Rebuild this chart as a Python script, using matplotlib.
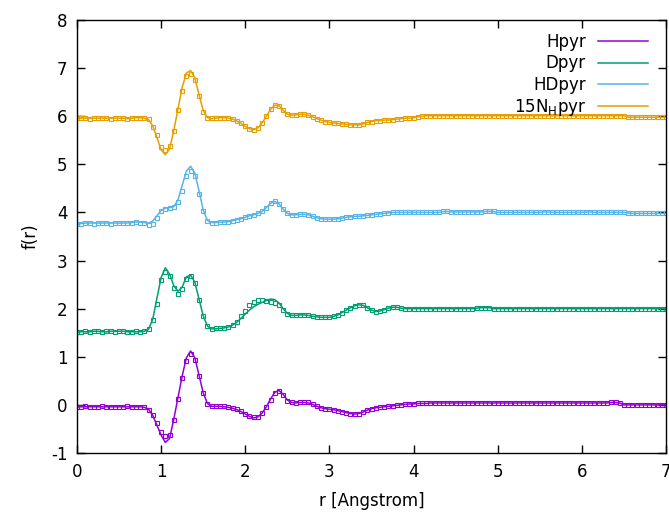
import numpy as np
import matplotlib
matplotlib.use("Agg")
import matplotlib.pyplot as plt

plt.rcParams['font.family'] = ['DejaVu Sans']
plt.rcParams['axes.unicode_minus'] = False

# r grid (Angstrom), one sample every 0.05
r = np.linspace(0.0, 7.0, 141)

# Hpyr (offset 0)
hpyr_fit = [
    -0.04, -0.04, -0.04, -0.04, -0.04, -0.04, -0.04, -0.04, -0.04, -0.04,
    -0.04, -0.04, -0.04, -0.04, -0.04, -0.04, -0.05, -0.09, -0.22, -0.42,
    -0.63, -0.78, -0.70, -0.30, 0.15, 0.60, 0.98, 1.12, 0.98, 0.62,
    0.25, 0.03, -0.03, -0.03, -0.03, -0.04, -0.05, -0.07, -0.10, -0.14,
    -0.19, -0.24, -0.27, -0.25, -0.17, -0.04, 0.12, 0.26, 0.30, 0.22,
    0.10, 0.05, 0.04, 0.05, 0.05, 0.04, 0.01, -0.03, -0.06, -0.08,
    -0.09, -0.10, -0.12, -0.14, -0.16, -0.18, -0.19, -0.18, -0.15, -0.11,
    -0.08, -0.06, -0.05, -0.04, -0.03, -0.02, -0.01, 0.00, 0.01, 0.02,
    0.02, 0.03, 0.03, 0.03, 0.04, 0.04, 0.04, 0.04, 0.04, 0.04,
    0.04, 0.04, 0.04, 0.04, 0.04, 0.04, 0.04, 0.04, 0.04, 0.04,
    0.04, 0.04, 0.04, 0.04, 0.04, 0.04, 0.04, 0.04, 0.04, 0.04,
    0.04, 0.04, 0.04, 0.04, 0.04, 0.04, 0.04, 0.04, 0.04, 0.04,
    0.04, 0.04, 0.04, 0.04, 0.04, 0.04, 0.04, 0.05, 0.05, 0.04,
    0.00, 0.00, 0.00, 0.00, 0.00, 0.00, 0.00, 0.00, 0.00, 0.00,
    0.00]
hpyr_data = [
    -0.04, -0.04, -0.03, -0.04, -0.04, -0.04, -0.03, -0.04, -0.04, -0.04,
    -0.04, -0.04, -0.03, -0.04, -0.04, -0.04, -0.05, -0.10, -0.22, -0.38,
    -0.56, -0.65, -0.63, -0.32, 0.13, 0.56, 0.92, 1.05, 0.94, 0.60,
    0.24, 0.02, -0.03, -0.03, -0.02, -0.03, -0.05, -0.06, -0.09, -0.13,
    -0.18, -0.23, -0.26, -0.25, -0.17, -0.05, 0.11, 0.25, 0.29, 0.21,
    0.09, 0.05, 0.04, 0.05, 0.05, 0.05, 0.02, -0.02, -0.06, -0.08,
    -0.09, -0.10, -0.12, -0.14, -0.16, -0.18, -0.19, -0.18, -0.15, -0.11,
    -0.08, -0.06, -0.05, -0.04, -0.03, -0.02, -0.01, 0.00, 0.01, 0.02,
    0.02, 0.03, 0.03, 0.03, 0.04, 0.04, 0.04, 0.04, 0.04, 0.04,
    0.04, 0.04, 0.04, 0.04, 0.04, 0.04, 0.04, 0.04, 0.04, 0.04,
    0.04, 0.04, 0.04, 0.04, 0.04, 0.04, 0.04, 0.04, 0.04, 0.04,
    0.04, 0.04, 0.04, 0.04, 0.04, 0.04, 0.04, 0.04, 0.04, 0.04,
    0.04, 0.04, 0.04, 0.04, 0.04, 0.04, 0.04, 0.05, 0.05, 0.04,
    0.00, 0.00, 0.00, 0.00, 0.00, 0.00, 0.00, 0.00, 0.00, 0.00,
    0.00]

# Dpyr (offset 2)
dpyr_fit = [
    1.51, 1.52, 1.52, 1.52, 1.53, 1.53, 1.52, 1.52, 1.53, 1.53,
    1.53, 1.53, 1.52, 1.52, 1.52, 1.52, 1.53, 1.57, 1.78, 2.22,
    2.65, 2.85, 2.72, 2.48, 2.36, 2.45, 2.66, 2.70, 2.55, 2.20,
    1.85, 1.64, 1.58, 1.58, 1.59, 1.60, 1.62, 1.66, 1.72, 1.80,
    1.89, 1.97, 2.04, 2.09, 2.13, 2.17, 2.20, 2.19, 2.12, 2.00,
    1.90, 1.86, 1.86, 1.87, 1.87, 1.86, 1.84, 1.83, 1.82, 1.82,
    1.82, 1.84, 1.87, 1.92, 1.97, 2.02, 2.06, 2.08, 2.07, 2.02,
    1.97, 1.94, 1.95, 1.98, 2.01, 2.03, 2.03, 2.01, 2.00, 2.00,
    2.00, 2.00, 2.00, 2.00, 2.00, 2.00, 2.00, 2.00, 2.00, 2.00,
    2.00, 2.00, 2.00, 2.00, 2.00, 2.01, 2.02, 2.02, 2.02, 2.00,
    2.00, 2.00, 2.00, 2.00, 2.00, 2.00, 2.00, 2.00, 2.00, 2.00,
    2.00, 2.00, 2.00, 2.00, 2.00, 2.00, 2.00, 2.00, 2.00, 2.00,
    2.00, 2.00, 2.00, 2.00, 2.00, 2.00, 2.00, 2.00, 2.00, 2.00,
    2.00, 2.00, 2.00, 2.00, 2.00, 2.00, 2.00, 2.00, 2.00, 2.00,
    2.00]
dpyr_data = [
    1.51, 1.52, 1.53, 1.52, 1.53, 1.53, 1.52, 1.53, 1.53, 1.52,
    1.53, 1.53, 1.52, 1.52, 1.53, 1.52, 1.53, 1.58, 1.76, 2.10,
    2.60, 2.77, 2.68, 2.42, 2.30, 2.40, 2.62, 2.68, 2.53, 2.18,
    1.84, 1.63, 1.58, 1.59, 1.59, 1.60, 1.62, 1.66, 1.73, 1.84,
    1.95, 2.07, 2.14, 2.17, 2.17, 2.15, 2.13, 2.12, 2.07, 1.98,
    1.89, 1.86, 1.86, 1.87, 1.87, 1.86, 1.84, 1.83, 1.82, 1.82,
    1.82, 1.84, 1.87, 1.92, 1.97, 2.02, 2.06, 2.08, 2.07, 2.02,
    1.97, 1.94, 1.95, 1.98, 2.01, 2.03, 2.03, 2.01, 2.00, 2.00,
    2.00, 2.00, 2.00, 2.00, 2.00, 2.00, 2.00, 2.00, 2.00, 2.00,
    2.00, 2.00, 2.00, 2.00, 2.00, 2.01, 2.02, 2.02, 2.02, 2.00,
    2.00, 2.00, 2.00, 2.00, 2.00, 2.00, 2.00, 2.00, 2.00, 2.00,
    2.00, 2.00, 2.00, 2.00, 2.00, 2.00, 2.00, 2.00, 2.00, 2.00,
    2.00, 2.00, 2.00, 2.00, 2.00, 2.00, 2.00, 2.00, 2.00, 2.00,
    2.00, 2.00, 2.00, 2.00, 2.00, 2.00, 2.00, 2.00, 2.00, 2.00,
    2.00]

# HDpyr (offset 4)
hdpyr_fit = [
    3.75, 3.77, 3.78, 3.78, 3.78, 3.78, 3.78, 3.78, 3.78, 3.78,
    3.78, 3.78, 3.78, 3.79, 3.80, 3.80, 3.79, 3.78, 3.82, 3.93,
    4.04, 4.09, 4.10, 4.12, 4.26, 4.56, 4.86, 4.96, 4.82, 4.45,
    4.05, 3.83, 3.79, 3.79, 3.80, 3.80, 3.81, 3.83, 3.85, 3.87,
    3.90, 3.93, 3.95, 3.98, 4.02, 4.10, 4.19, 4.23, 4.18, 4.07,
    3.98, 3.95, 3.95, 3.96, 3.96, 3.95, 3.92, 3.89, 3.87, 3.86,
    3.86, 3.86, 3.87, 3.88, 3.90, 3.91, 3.92, 3.92, 3.93, 3.94,
    3.95, 3.96, 3.97, 3.98, 3.99, 4.00, 4.00, 4.00, 4.00, 4.00,
    4.00, 4.00, 4.00, 4.00, 4.00, 4.00, 4.00, 4.02, 4.02, 4.01,
    4.01, 4.01, 4.01, 4.01, 4.01, 4.01, 4.01, 4.02, 4.02, 4.02,
    4.00, 4.00, 4.00, 4.00, 4.00, 4.00, 4.00, 4.00, 4.00, 4.00,
    4.00, 4.01, 4.01, 4.00, 4.00, 4.00, 4.00, 4.00, 4.00, 4.00,
    4.00, 4.01, 4.01, 4.00, 4.00, 4.00, 4.00, 4.00, 4.00, 4.00,
    4.00, 3.99, 3.98, 3.98, 3.98, 3.98, 3.98, 3.98, 3.98, 3.98,
    3.98]
hdpyr_data = [
    3.75, 3.77, 3.78, 3.78, 3.77, 3.78, 3.78, 3.78, 3.77, 3.78,
    3.78, 3.78, 3.78, 3.79, 3.80, 3.79, 3.78, 3.73, 3.76, 3.88,
    4.02, 4.08, 4.10, 4.11, 4.22, 4.45, 4.76, 4.86, 4.76, 4.38,
    4.02, 3.82, 3.79, 3.79, 3.80, 3.80, 3.81, 3.83, 3.85, 3.87,
    3.90, 3.93, 3.95, 3.98, 4.02, 4.10, 4.19, 4.23, 4.18, 4.07,
    3.98, 3.95, 3.95, 3.96, 3.96, 3.95, 3.92, 3.89, 3.87, 3.86,
    3.86, 3.86, 3.87, 3.88, 3.90, 3.91, 3.92, 3.92, 3.93, 3.94,
    3.95, 3.96, 3.97, 3.98, 3.99, 4.00, 4.00, 4.00, 4.00, 4.00,
    4.00, 4.00, 4.00, 4.00, 4.00, 4.00, 4.00, 4.02, 4.02, 4.01,
    4.01, 4.01, 4.01, 4.01, 4.01, 4.01, 4.01, 4.02, 4.02, 4.02,
    4.00, 4.00, 4.00, 4.00, 4.00, 4.00, 4.00, 4.00, 4.00, 4.00,
    4.00, 4.01, 4.01, 4.00, 4.00, 4.00, 4.00, 4.00, 4.00, 4.00,
    4.00, 4.01, 4.01, 4.00, 4.00, 4.00, 4.00, 4.00, 4.00, 4.00,
    4.00, 3.99, 3.98, 3.98, 3.98, 3.98, 3.98, 3.98, 3.98, 3.98,
    3.98]

# 15N_H pyr (offset 6)
n15pyr_fit = [
    5.96, 5.96, 5.96, 5.96, 5.96, 5.96, 5.96, 5.96, 5.96, 5.96,
    5.96, 5.96, 5.95, 5.96, 5.97, 5.97, 5.96, 5.93, 5.80, 5.56,
    5.30, 5.20, 5.32, 5.70, 6.15, 6.60, 6.90, 6.95, 6.80, 6.45,
    6.12, 5.97, 5.95, 5.96, 5.97, 5.97, 5.96, 5.94, 5.90, 5.85,
    5.79, 5.74, 5.72, 5.76, 5.86, 6.00, 6.14, 6.23, 6.22, 6.12,
    6.04, 6.02, 6.03, 6.04, 6.04, 6.02, 5.99, 5.95, 5.92, 5.89,
    5.87, 5.86, 5.85, 5.84, 5.83, 5.82, 5.82, 5.82, 5.84, 5.87,
    5.89, 5.91, 5.91, 5.92, 5.92, 5.93, 5.94, 5.95, 5.96, 5.96,
    5.97, 5.99, 6.00, 6.01, 6.01, 6.01, 6.01, 6.01, 6.01, 6.01,
    6.01, 6.01, 6.01, 6.01, 6.01, 6.01, 6.01, 6.01, 6.01, 6.01,
    6.01, 6.01, 6.01, 6.01, 6.01, 6.01, 6.01, 6.01, 6.01, 6.01,
    6.01, 6.01, 6.01, 6.01, 6.01, 6.01, 6.01, 6.01, 6.01, 6.01,
    6.01, 6.01, 6.01, 6.01, 6.01, 6.01, 6.01, 6.01, 6.01, 6.01,
    6.01, 5.98, 5.98, 5.98, 5.98, 5.98, 5.98, 5.98, 5.98, 5.98,
    5.98]
n15pyr_data = [
    5.96, 5.96, 5.96, 5.95, 5.96, 5.96, 5.96, 5.96, 5.95, 5.96,
    5.96, 5.96, 5.95, 5.96, 5.97, 5.97, 5.96, 5.94, 5.78, 5.62,
    5.36, 5.30, 5.38, 5.70, 6.12, 6.52, 6.83, 6.88, 6.76, 6.42,
    6.08, 5.97, 5.96, 5.96, 5.97, 5.97, 5.96, 5.94, 5.90, 5.85,
    5.79, 5.74, 5.72, 5.76, 5.86, 6.00, 6.14, 6.23, 6.22, 6.12,
    6.04, 6.02, 6.03, 6.04, 6.04, 6.02, 5.99, 5.95, 5.92, 5.89,
    5.87, 5.86, 5.85, 5.84, 5.83, 5.82, 5.82, 5.82, 5.84, 5.87,
    5.89, 5.91, 5.91, 5.92, 5.92, 5.93, 5.94, 5.95, 5.96, 5.96,
    5.97, 5.99, 6.00, 6.01, 6.01, 6.01, 6.01, 6.01, 6.01, 6.01,
    6.01, 6.01, 6.01, 6.01, 6.01, 6.01, 6.01, 6.01, 6.01, 6.01,
    6.01, 6.01, 6.01, 6.01, 6.01, 6.01, 6.01, 6.01, 6.01, 6.01,
    6.01, 6.01, 6.01, 6.01, 6.01, 6.01, 6.01, 6.01, 6.01, 6.01,
    6.01, 6.01, 6.01, 6.01, 6.01, 6.01, 6.01, 6.01, 6.01, 6.01,
    6.01, 5.98, 5.98, 5.98, 5.98, 5.98, 5.98, 5.98, 5.98, 5.98,
    5.98]

labels = ['Hpyr', 'Dpyr', 'HDpyr', r'15N$_\mathregular{H}$pyr']
colors = ['#9400d3', '#009e73', '#56b4e9', '#e69f00']
fits = [hpyr_fit, dpyr_fit, hdpyr_fit, n15pyr_fit]
datas = [hpyr_data, dpyr_data, hdpyr_data, n15pyr_data]

fig = plt.figure(figsize=(6.69, 5.14), dpi=100)
ax = fig.add_axes([77 / 669, 1 - 453 / 514, (666 - 77) / 669, (453 - 20) / 514])

handles = []
for lab, col, f, d in zip(labels, colors, fits, datas):
    ln, = ax.plot(r, f, '-', color=col, lw=1.1, label=lab)
    ax.plot(r, d, 's', color=col, mfc='none', ms=2.8, mew=0.8)
    handles.append(ln)

ax.set_xlim(0, 7)
ax.set_ylim(-1, 8)
ax.set_xticks(range(0, 8))
ax.set_yticks(range(-1, 9))
ax.tick_params(direction='in', length=6, width=1, top=True, right=True,
               labelsize=12, pad=7)
for s in ax.spines.values():
    s.set_linewidth(1)

ax.set_xlabel('r [Angstrom]', fontsize=12, labelpad=8)
ax.set_ylabel('f(r)', fontsize=12, labelpad=8)

ax.legend(handles=handles, loc='upper right', bbox_to_anchor=(0.98, 0.985),
          frameon=False, markerfirst=False, fontsize=12, handlelength=3.0,
          labelspacing=0.2, handletextpad=0.7, borderaxespad=0)

fig.savefig('out.png', dpi=100)
